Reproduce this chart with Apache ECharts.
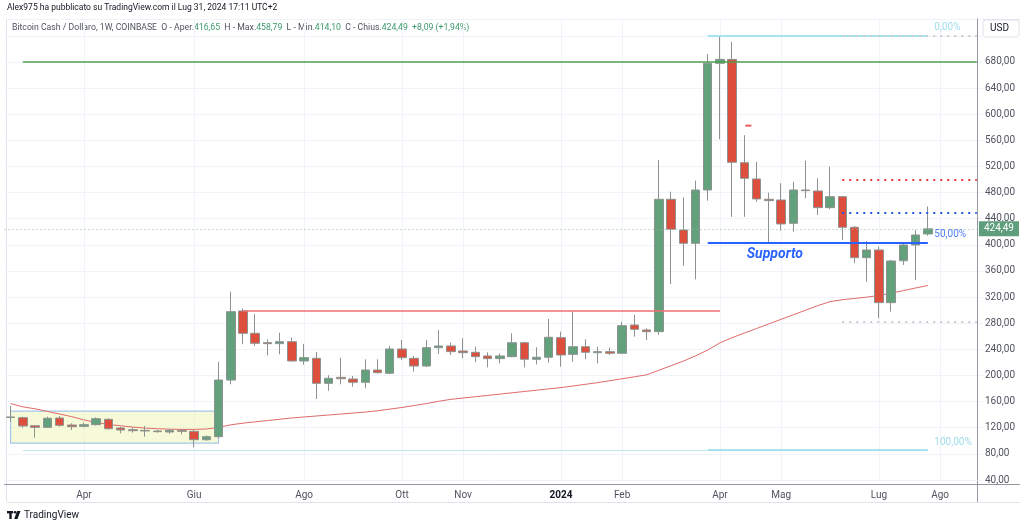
<!DOCTYPE html>
<html>
<head>
<meta charset="utf-8">
<script src="https://cdn.jsdelivr.net/npm/echarts@6/dist/echarts.min.js"></script>
<style>
  html, body { margin: 0; padding: 0; background: #fff; }
  #chart { width: 1024px; height: 525px; }
</style>
</head>
<body>
<div id="chart"></div>
<script>
// weekly bars, Monday dates (2023-02-20 ... 2024-08-26, last 4 are empty)
const weeks = []
for (let i = 0; i < 80; i++) {
  weeks.push(new Date(Date.UTC(2023, 1, 20 + 7 * i)).toISOString().slice(0, 10))
}

// [open, close, low, high] per week
const candles = [
  [135.8, 136.5, 129.3, 153.3],
  [135.4, 122.7, 120.0, 137.0],
  [123.1, 120.6, 104.8, 124.0],
  [120.6, 134.5, 119.6, 137.0],
  [134.9, 123.7, 121.6, 138.0],
  [124.2, 121.6, 116.5, 126.8],
  [122.2, 124.7, 120.5, 128.0],
  [124.7, 133.9, 123.5, 136.0],
  [132.9, 118.5, 117.0, 134.5],
  [119.6, 116.6, 111.5, 121.6],
  [117.0, 115.5, 112.5, 121.0],
  [116.0, 115.0, 106.3, 122.7],
  [115.0, 114.0, 112.5, 117.0],
  [113.5, 116.0, 111.0, 118.0],
  [116.0, 114.5, 110.0, 118.0],
  [114.5, 101.7, 90.0, 116.6],
  [101.7, 106.3, 100.0, 108.4],
  [106.3, 193.1, 104.0, 221.0],
  [193.0, 297.7, 186.5, 328.3],
  [298.8, 264.6, 247.8, 302.8],
  [264.6, 249.3, 245.2, 294.0],
  [250.3, 248.7, 230.9, 255.4],
  [248.7, 251.8, 232.4, 265.5],
  [251.8, 222.2, 220.7, 257.9],
  [222.2, 227.3, 216.5, 248.2],
  [226.3, 188.0, 164.0, 236.0],
  [188.0, 195.7, 176.7, 200.3],
  [197.2, 195.1, 186.5, 227.3],
  [194.6, 189.6, 182.8, 199.2],
  [189.6, 208.4, 180.4, 224.8],
  [208.4, 204.3, 203.0, 224.8],
  [203.4, 240.6, 202.0, 245.2],
  [240.6, 227.3, 223.7, 254.4],
  [226.3, 214.5, 205.9, 229.9],
  [214.5, 242.6, 213.0, 254.4],
  [242.6, 245.2, 232.9, 269.7],
  [245.2, 236.5, 231.4, 250.2],
  [237.5, 234.9, 226.3, 257.0],
  [235.5, 228.8, 220.2, 244.1],
  [229.9, 225.8, 212.5, 235.5],
  [225.8, 229.9, 218.7, 234.0],
  [228.8, 250.2, 227.9, 264.6],
  [250.2, 224.8, 212.5, 251.8],
  [224.8, 227.9, 217.0, 243.1],
  [227.9, 258.5, 219.6, 286.5],
  [257.9, 231.4, 213.5, 267.1],
  [232.4, 244.1, 221.1, 297.7],
  [244.1, 235.5, 224.8, 255.4],
  [234.9, 236.5, 218.7, 244.1],
  [236.5, 234.0, 231.4, 242.6],
  [234.0, 276.3, 233.0, 282.4],
  [277.3, 270.7, 259.4, 292.6],
  [269.7, 267.1, 254.4, 272.3],
  [267.1, 469.8, 262.0, 529.9],
  [469.8, 423.9, 340.1, 481.4],
  [422.8, 402.4, 368.1, 472.8],
  [402.4, 484.0, 347.2, 498.3],
  [484.0, 678.0, 467.6, 692.3],
  [678.0, 684.0, 561.6, 718.8],
  [684.0, 526.4, 443.0, 711.1],
  [525.8, 501.9, 443.0, 567.9],
  [500.9, 470.3, 466.0, 527.3],
  [469.8, 467.7, 402.4, 480.0],
  [468.7, 432.0, 421.7, 494.3],
  [433.0, 484.0, 420.2, 496.8],
  [484.0, 483.0, 471.3, 528.9],
  [482.5, 457.0, 445.7, 502.0],
  [457.0, 473.8, 454.6, 519.7],
  [473.8, 426.9, 407.4, 474.8],
  [426.9, 380.4, 371.8, 428.9],
  [380.4, 392.2, 343.6, 405.9],
  [392.2, 311.5, 287.6, 397.2],
  [311.5, 375.3, 297.7, 376.8],
  [375.7, 399.8, 369.2, 403.4],
  [399.8, 415.1, 346.2, 422.8],
  [416.65, 424.49, 414.10, 458.79]
]

// moving average (red line)
const ma = [
  157, 152, 149, 145, 141, 137,
  132, 128, 125, 123, 121, 119.5, 118.5, 117.8, 117.5, 117.5,
  118, 120.5, 124.5, 127, 129, 131, 133, 135, 136.5, 138,
  139.5, 141, 142.5, 144, 146, 148.5, 151, 154, 157, 160.5,
  163.5, 165.5, 167.5, 169.5, 171.5, 173.5, 175.5, 177.5, 179.5, 181.5,
  184, 186.5, 189, 192, 195, 198, 201, 208, 215, 222,
  230, 239, 250, 258, 265, 272, 279, 286, 293, 300,
  307, 313, 316, 318, 320, 322.5, 326, 330, 334, 337.77
]

const tickDates = ['2023-04-03', '2023-06-05', '2023-08-07', '2023-10-02', '2023-11-06', '2024-01-01',
  '2024-02-05', '2024-04-01', '2024-05-06', '2024-07-01', '2024-08-05']
const tickLabels = ['Apr', 'Giu', 'Ago', 'Ott', 'Nov', '2024', 'Feb', 'Apr', 'Mag', 'Lug', 'Ago']

// drawings: price levels and the weeks they span
const boxRange = { from: '2023-02-20', to: '2023-06-19', top: 145.6, bottom: 96.6 }
const resistance = { value: 680, from: '2023-02-27', to: '2024-08-26' }
const breakout = { value: 298.8, from: '2023-07-03', to: '2024-04-01' }
const fibLevels = [719.8, 403.5, 85.9]
const fibNames = ['0,00%', '50,00%', '100,00%']
const fibFrom = '2024-03-25'
const fibTo = '2024-07-29'
const rays = [719.8, 500.4, 449.3, 282.4]
const rayFrom = '2024-06-10'
const rayTo = '2024-08-26'
const supportText = { week: '2024-04-29', value: 386 }
const smallMark = { week: '2024-04-15', value: 582.5 }
const lastClose = 424.49
const lastMa = 337.77

const labelOf = {}
tickDates.forEach((d, i) => { labelOf[d] = tickLabels[i] })
const fmt = v => v.toFixed(2).replace('.', ',')

const chart = echarts.init(document.getElementById('chart'))

const seg = (from, to, value, lineStyle) => [
  { coord: [from, value], lineStyle, label: { show: false } },
  { coord: [to, value] }
]

const rayColors = ['#c9ccd1', '#e53935', '#2453e8', '#c9ccd1']
const fibColors = ['#a6e3ef', '#2962ff', '#a6e3ef']
const fibText = ['#9fdcea', '#4f7ff5', '#9fdcea']

const lines = [
  seg(resistance.from, resistance.to, resistance.value, { color: '#4c9f50', width: 1.5, type: 'solid' }),
  seg(breakout.from, breakout.to, breakout.value, { color: '#ef6f73', width: 1.5, type: 'solid' }),
  seg('2023-02-27', fibTo, fibLevels[2], { color: '#bfeaf3', width: 1, type: 'solid' })
]
fibLevels.forEach((v, i) => {
  lines.push(seg(fibFrom, fibTo, v, { color: fibColors[i], width: 2, type: 'solid' }))
})
rays.forEach((v, i) => {
  lines.push(seg(rayFrom, rayTo, v, { color: rayColors[i], width: 2, type: [2, 5] }))
})
lines.push({
  yAxis: lastClose,
  lineStyle: { color: '#8fbfa6', width: 1, type: [1, 3] },
  label: {
    show: true, position: 'end', distance: -4, formatter: fmt(lastClose),
    color: '#fff', backgroundColor: '#5f9e7c', padding: [3, 5, 2, 5], fontSize: 10
  }
})
lines.push({
  yAxis: lastMa,
  lineStyle: { opacity: 0 },
  label: {
    show: true, position: 'end', distance: -4, formatter: fmt(lastMa),
    color: '#fff', backgroundColor: '#c9343e', padding: [3, 5, 2, 5], fontSize: 10
  }
})

const points = fibLevels.map((v, i) => ({
  coord: [fibTo, v],
  symbol: 'rect', symbolSize: 1,
  itemStyle: { color: 'transparent' },
  label: {
    show: true, position: 'right', distance: 6, offset: [0, -8],
    formatter: fibNames[i], color: fibText[i], fontSize: 10
  }
}))
points.push({
  coord: [supportText.week, supportText.value],
  symbol: 'rect', symbolSize: 1,
  itemStyle: { color: 'transparent' },
  label: {
    show: true, position: 'inside', offset: [6, 0], formatter: 'Supporto',
    color: '#2962ff', fontSize: 14, fontStyle: 'italic', fontWeight: 'bold'
  }
})
points.push({
  coord: [smallMark.week, smallMark.value],
  symbol: 'rect', symbolSize: [6, 2], symbolOffset: [4, 0],
  itemStyle: { color: '#e85a5a' },
  label: { show: false }
})

const option = {
  animation: false,
  backgroundColor: '#ffffff',
  textStyle: { fontFamily: 'Roboto, sans-serif' },
  grid: { left: 4.5, right: 41.1, top: 19, bottom: 45 },
  xAxis: {
    type: 'category',
    data: weeks,
    boundaryGap: true,
    offset: 4,
    axisLine: { lineStyle: { color: '#9598a1' } },
    axisTick: { show: false },
    axisLabel: {
      interval: (i, v) => labelOf[v] !== undefined,
      formatter: v => v === '2024-01-01' ? '{b|2024}' : (labelOf[v] || ''),
      color: '#50535e',
      fontSize: 10,
      margin: 6,
      rich: { b: { fontWeight: 'bold', color: '#131722', fontSize: 10 } }
    },
    splitLine: {
      show: true,
      alignWithLabel: true,
      interval: (i, v) => labelOf[v] !== undefined,
      lineStyle: { color: '#f0f3fa' }
    }
  },
  yAxis: {
    type: 'value',
    position: 'right',
    min: 40,
    max: 745.8,
    interval: 40,
    offset: -5.9,
    axisLine: { show: true, lineStyle: { color: '#9598a1' } },
    axisTick: { show: false },
    axisLabel: {
      color: '#50535e',
      fontSize: 10,
      margin: 8,
      formatter: v => (v % 40 === 0 && v <= 680) ? fmt(v) : ''
    },
    splitLine: { lineStyle: { color: '#f0f3fa' } }
  },
  series: [
    {
      type: 'line',
      data: ma,
      symbol: 'none',
      z: 1,
      silent: true,
      lineStyle: { color: '#e06a6a', width: 1 },
      markArea: {
        silent: true,
        itemStyle: { color: 'rgba(238, 245, 180, 0.5)', borderColor: '#a8c6ec', borderWidth: 1.2 },
        data: [[
          { coord: [boxRange.from, boxRange.top] },
          { coord: [boxRange.to, boxRange.bottom] }
        ]]
      },
      markLine: {
        silent: true,
        symbol: ['none', 'none'],
        label: { show: false },
        data: lines
      },
      markPoint: {
        silent: true,
        data: points
      }
    },
    {
      type: 'candlestick',
      data: candles,
      barWidth: 9,
      z: 3,
      itemStyle: {
        color: '#63a07c',
        color0: '#dd4e3d',
        borderColor: '#8d9390',
        borderColor0: '#8d9390',
        borderWidth: 1
      }
    }
  ],
  graphic: [
    { type: 'line', shape: { x1: 7, y1: 19.5, x2: 1020, y2: 19.5 }, style: { stroke: '#e0e3eb', lineWidth: 1 }, silent: true },
    { type: 'line', shape: { x1: 6.5, y1: 19, x2: 6.5, y2: 502 }, style: { stroke: '#e0e3eb', lineWidth: 1 }, silent: true },
    { type: 'line', shape: { x1: 7, y1: 502.5, x2: 1020, y2: 502.5 }, style: { stroke: '#e0e3eb', lineWidth: 1 }, silent: true },
    { type: 'line', shape: { x1: 977, y1: 484.5, x2: 1020, y2: 484.5 }, style: { stroke: '#9598a1', lineWidth: 1 }, silent: true },
    { type: 'line', shape: { x1: 977.5, y1: 480, x2: 977.5, y2: 502 }, style: { stroke: '#9598a1', lineWidth: 1 }, silent: true },
    {
      type: 'text', left: 7, top: 3.5, silent: true,
      style: { text: 'Alex975 ha pubblicato su TradingView.com il Lug 31, 2024 17:11 UTC+2', fill: '#131722', font: '8.5px Roboto, sans-serif' }
    },
    {
      type: 'text', left: 12, top: 23, silent: true,
      style: {
        text: '{l|Bitcoin Cash / Dollaro, 1W, COINBASE  O - Aper.}{v|416,65}{l|  H - Max.}{v|458,79}{l|  L - Min.}{v|414,10}{l|  C - Chius.}{v|424,49}{v|  +8,09 (+1,94%)}',
        font: '8.7px Roboto, sans-serif',
        rich: {
          l: { fill: '#50535e', fontSize: 8.7, fontFamily: 'Roboto, sans-serif' },
          v: { fill: '#3d9a6c', fontSize: 8.7, fontFamily: 'Roboto, sans-serif' }
        }
      }
    },
    { type: 'rect', shape: { x: 983, y: 20, width: 36, height: 17, r: 3 }, style: { fill: '#ffffff', stroke: '#e0e3eb' }, silent: true },
    { type: 'text', left: 990, top: 23.5, silent: true, style: { text: 'USD', fill: '#131722', font: '10px Roboto, sans-serif' } },
    { type: 'rect', shape: { x: 7, y: 511, width: 6, height: 2.4 }, style: { fill: '#131722' }, silent: true },
    { type: 'rect', shape: { x: 9.3, y: 511, width: 2.4, height: 8 }, style: { fill: '#131722' }, silent: true },
    { type: 'circle', shape: { cx: 15, cy: 512.3, r: 1.3 }, style: { fill: '#131722' }, silent: true },
    { type: 'polygon', shape: { points: [[17, 511], [20.5, 511], [17.5, 519], [14.2, 519]] }, style: { fill: '#131722' }, silent: true },
    { type: 'text', left: 24, top: 510, silent: true, style: { text: 'TradingView', fill: '#131722', font: '10px Roboto, sans-serif' } }
  ]
}

chart.setOption(option)
</script>
</body>
</html>
